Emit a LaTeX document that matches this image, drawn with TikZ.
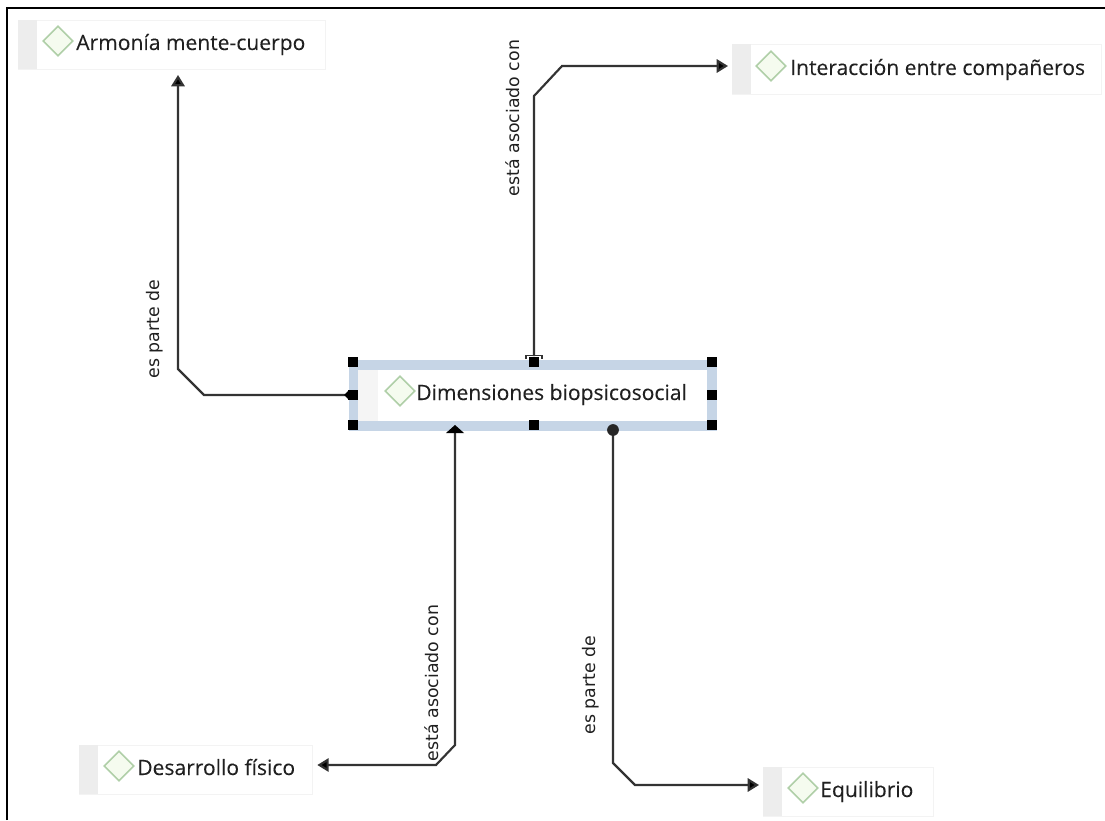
\documentclass[tikz,border=0pt]{standalone}
\usepackage{fontspec}
\setmainfont{Open Sans}
\newfontfamily\conceptfont[FakeBold=0.12]{Open Sans}
\newfontfamily\labelfont{DejaVu Sans}
\usetikzlibrary{shapes.geometric,arrows.meta}
\definecolor{boxedge}{HTML}{F3F3F3}
\definecolor{bandgray}{HTML}{EDEDED}
\definecolor{bandpale}{HTML}{F5F5F5}
\definecolor{gemedge}{HTML}{B0CFA8}
\definecolor{gemfill}{HTML}{F5FBEF}
\definecolor{inkdark}{HTML}{202020}
\definecolor{selblue}{HTML}{C6D5E6}
\definecolor{linkgray}{HTML}{333333}
\tikzset{
  x=0.75pt,y=-0.75pt,
  conceptbox/.style={draw=boxedge,line width=0.6pt,fill=white,anchor=north west,inner sep=0pt,outer sep=0pt},
  band/.style={fill=bandgray,draw=none,anchor=north west,inner sep=0pt},
  gem/.style={diamond,draw=gemedge,fill=gemfill,line width=1.2pt,minimum width=22.5pt,minimum height=22.5pt,inner sep=0pt,aspect=1},
  concept/.style={anchor=base west,inner sep=0pt,font=\conceptfont\fontsize{15.8}{18}\selectfont,text=inkdark},
  handle/.style={fill=black,draw=none,minimum size=8.2pt,inner sep=0pt},
  selbar/.style={fill=selblue,draw=none,anchor=north west,inner sep=0pt},
  link/.style={draw=linkgray,line width=1.6pt},
  tiparrow/.style={-{Triangle[length=8.5pt,width=10pt,fill=black]}},
  linklabel/.style={rotate=90,inner sep=0pt,font=\labelfont\fontsize{13}{15}\selectfont,text=inkdark,anchor=center},
}
\begin{document}
\begin{tikzpicture}
\useasboundingbox (0,0) rectangle (1105,820);
\fill[white] (0,0) rectangle (1105,820);
\draw[black,line width=2pt] (7,820) -- (7,8) -- (1105,8);

% Armonia
\node[conceptbox,minimum width=230.25pt,minimum height=36.75pt] (arm) at (18,20) {};
\node[band,minimum width=14.25pt,minimum height=36.75pt] (armb) at (18,20) {};
\node[gem] (armg) at (58,41) {};
\node[concept] (armt) at (76,50) {Armonía mente-cuerpo};

% Interaccion
\node[conceptbox,minimum width=276.75pt,minimum height=37.5pt] (int) at (732,44) {};
\node[band,minimum width=14.25pt,minimum height=37.5pt] (intb) at (732,44) {};
\node[gem] (intg) at (771,66) {};
\node[concept] (intt) at (790,75) {Interacción entre compañeros};

% Desarrollo
\node[conceptbox,minimum width=174.75pt,minimum height=36.75pt] (des) at (79,745) {};
\node[band,minimum width=14.25pt,minimum height=36.75pt] (desb) at (79,745) {};
\node[gem] (desg) at (119,766) {};
\node[concept] (dest) at (137,775) {Desarrollo físico};

% Equilibrio
\node[conceptbox,minimum width=127.5pt,minimum height=36.75pt] (equ) at (763,767) {};
\node[band,minimum width=14.25pt,minimum height=36.75pt] (equb) at (763,767) {};
\node[gem] (equg) at (803,788) {};
\node[concept] (equt) at (820,797) {Equilibrio};

% Dimensiones (selected)
\node[draw=none,fill=white,anchor=north west,inner sep=0pt,minimum width=276pt,minimum height=53.25pt] (dim) at (349,360) {};
\node[selbar,minimum width=276pt,minimum height=7.5pt] (dimtop) at (349,360) {};
\node[selbar,minimum width=276pt,minimum height=7.5pt] (dimbot) at (349,421) {};
\node[selbar,minimum width=6.75pt,minimum height=53.25pt] (dimlef) at (349,360) {};
\node[selbar,minimum width=7.5pt,minimum height=53.25pt] (dimrig) at (707,360) {};
\node[band,fill=bandpale,minimum width=15pt,minimum height=38.25pt] (dimb) at (358,370) {};
\node[gem] (dimg) at (400,391) {};
\node[concept] (dimt) at (416,400) {Dimensiones biopsicosocial};

% Connectors
\coordinate (a1) at (204,395);
\coordinate (a2) at (178,369);
\draw[link,tiparrow] ([xshift=-3pt]dim.west|-a1) -- (a1) -- (a2) -- (178,75);
\fill[black] (344,395) -- (348,391) -- (348,399) -- cycle;

\coordinate (b1) at (534,96);
\coordinate (b2) at (562,66);
\draw[link,tiparrow] (534,356) -- (b1) -- (b2) -- ([xshift=-3pt]int.west|-b2);
\draw[linkgray,line width=1.1pt] (526,359) -- (526,355.5) -- (542,355.5) -- (542,359);

\coordinate (c1) at (455,745);
\coordinate (c2) at (436,765);
\draw[link,tiparrow] (455,432) -- (c1) -- (c2) -- ([xshift=4pt]des.east|-c2);
\fill[black] (455,425) -- (464,433) -- (446,433) -- cycle;

\coordinate (d1) at (613,763);
\coordinate (d2) at (635,785);
\draw[link,tiparrow] (613,431) -- (d1) -- (d2) -- ([xshift=-3pt]equ.west|-d2);
\fill[black!85] (613,430) circle (4.4pt);

% Handles
\node[handle] (h1) at (353,362) {};
\node[handle] (h2) at (534,362) {};
\node[handle] (h3) at (712,362) {};
\node[handle] (h4) at (353,395) {};
\node[handle] (h5) at (712,395) {};
\node[handle] (h6) at (353,425) {};
\node[handle] (h7) at (534,425) {};
\node[handle] (h8) at (712,425) {};

% Labels
\node[linklabel] (l1) at (155,329) {es parte de};
\node[linklabel] (l2) at (513,118) {está asociado con};
\node[linklabel] (l3) at (432,683) {está asociado con};
\node[linklabel] (l4) at (591,685) {es parte de};
\end{tikzpicture}
\end{document}
